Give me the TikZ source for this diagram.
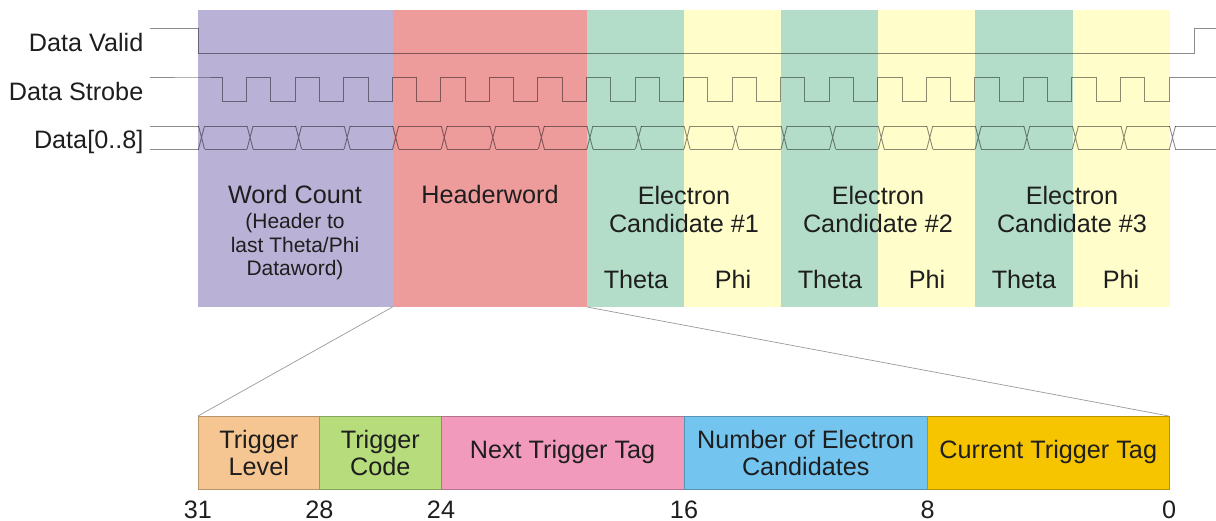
\documentclass[tikz,border=0pt]{standalone}
\usepackage{fontspec}
\setmainfont{Liberation Sans}
\definecolor{cpur}{HTML}{BAB1D6}
\definecolor{cred}{HTML}{EE9B9C}
\definecolor{cgrn}{HTML}{B3DDC8}
\definecolor{cyel}{HTML}{FFFDCA}
\definecolor{forg}{HTML}{F6C692}
\definecolor{fgrn}{HTML}{B6DC7C}
\definecolor{fpnk}{HTML}{F29ABC}
\definecolor{fblu}{HTML}{74C4F0}
\definecolor{fgld}{HTML}{F6C500}
\definecolor{txt}{HTML}{1E1E1E}
\begin{document}
\begin{tikzpicture}[x=1pt,y=-1pt,
  col/.style={draw=none,anchor=north west,minimum height=297pt,inner sep=0pt,outer sep=0pt},
  field/.style={draw=#1!75!black,line width=0.8pt,fill=#1,anchor=north west,minimum height=73pt,inner sep=0pt,outer sep=0pt},
  lbl/.style={font=\fontsize{25.2}{28}\selectfont,text=txt,inner sep=0pt,anchor=base},
  sml/.style={font=\fontsize{21}{24}\selectfont,text=txt,inner sep=0pt,anchor=base},
  sig/.style={font=\fontsize{25.2}{28}\selectfont,text=txt,inner sep=0pt,anchor=base east},
  wave/.style={draw=black,opacity=0.45,line width=0.9pt},
  zoomline/.style={draw=black!40,line width=0.7pt}]
\useasboundingbox (0,0) rectangle (1216,521);
% columns
\node[col,fill=cpur,minimum width=194.5pt] (wc) at (198,10) {};
\node[col,fill=cred,minimum width=194.5pt] (hw) at (392.5,10) {};
\node[col,fill=cgrn,minimum width=97.2pt] (t1) at (587,10) {};
\node[col,fill=cyel,minimum width=97.2pt] (p1) at (684.1,10) {};
\node[col,fill=cgrn,minimum width=97.2pt] (t2) at (781.2,10) {};
\node[col,fill=cyel,minimum width=97.2pt] (p2) at (878.3,10) {};
\node[col,fill=cgrn,minimum width=97.2pt] (t3) at (975.4,10) {};
\node[col,fill=cyel,minimum width=97.2pt] (p3) at (1072.5,10) {};
% signal names
\node[sig] (dv) at (143.5,51.5) {Data Valid};
\node[sig] (ds) at (143.5,100.5) {Data Strobe};
\node[sig] (dd) at (143.5,148.5) {Data[0..8]};
% waveforms
\draw[wave] (150,28) -- (198,28) -- (198,53) -- (1194,53) -- (1194,28) -- (1216,28);
\draw[wave] (150,77) -- (198,77)
  \foreach \k in {0,...,19} { -- ({198+\k*48.55+24.3},77) -- ({198+\k*48.55+24.3},101)
     -- ({198+(\k+1)*48.55},101) -- ({198+(\k+1)*48.55},77) } -- (1216,77);
\draw[wave] (150,126) -- (198.5,126) (150,149) -- (198.5,149)
  (1174.5,126) -- (1216,126) (1174.5,149) -- (1216,149);
\foreach \k in {0,...,20} {
  \draw[wave] ({198.5+\k*48.55},126) -- ({204.5+\k*48.55},149)
              ({198.5+\k*48.55},149) -- ({204.5+\k*48.55},126);
}
\foreach \k in {0,...,19} {
  \draw[wave] ({204.5+\k*48.55},126) -- ({198.5+(\k+1)*48.55},126)
              ({204.5+\k*48.55},149) -- ({198.5+(\k+1)*48.55},149);
}
% column texts
\node[lbl] (wct) at (295,204) {Word Count};
\node[sml] (wc1) at (295,229) {(Header to};
\node[sml] (wc2) at (295,252.5) {last Theta/Phi};
\node[sml] (wc3) at (295,276) {Dataword)};
\node[lbl] (hwt) at (490,204) {Headerword};
\node[lbl] (e1a) at (684,204.3) {Electron};
\node[lbl] (e1b) at (684,232.7) {Candidate \#1};
\node[lbl] (e2a) at (878,204.3) {Electron};
\node[lbl] (e2b) at (878,232.7) {Candidate \#2};
\node[lbl] (e3a) at (1072,204.3) {Electron};
\node[lbl] (e3b) at (1072,232.7) {Candidate \#3};
\node[lbl] (th1) at (636,288.3) {Theta};
\node[lbl] (ph1) at (733,288.3) {Phi};
\node[lbl] (th2) at (830,288.3) {Theta};
\node[lbl] (ph2) at (927,288.3) {Phi};
\node[lbl] (th3) at (1024,288.3) {Theta};
\node[lbl] (ph3) at (1121,288.3) {Phi};
% header word fields
\node[field=forg,minimum width=121.5pt] (tl) at (198,416) {};
\node[field=fgrn,minimum width=121.5pt] (tc) at (319.5,416) {};
\node[field=fpnk,minimum width=243pt] (nt) at (441,416) {};
\node[field=fblu,minimum width=243.5pt] (ne) at (684,416) {};
\node[field=fgld,minimum width=241.5pt] (ct) at (927.5,416) {};
\node[lbl] (tl1) at (tl.center |- 0,448.5) {Trigger};
\node[lbl] (tl2) at (tl.center |- 0,475.5) {Level};
\node[lbl] (tc1) at (tc.center |- 0,448.5) {Trigger};
\node[lbl] (tc2) at (tc.center |- 0,475.5) {Code};
\node[lbl] (ntt) at (nt.center |- 0,458.5) {Next Trigger Tag};
\node[lbl] (ne1) at (ne.center |- 0,448.5) {Number of Electron};
\node[lbl] (ne2) at (ne.center |- 0,475.5) {Candidates};
\node[lbl] (ctt) at (ct.center |- 0,458.5) {Current Trigger Tag};
% bit numbers
\node[lbl] (b31) at (198,518) {31};
\node[lbl] (b28) at (319.5,518) {28};
\node[lbl] (b24) at (441,518) {24};
\node[lbl] (b16) at (684,518) {16};
\node[lbl] (b8) at (927.5,518) {8};
\node[lbl] (b0) at (1169,518) {0};
% zoom lines
\draw[zoomline] (hw.south west) -- (tl.north west);
\draw[zoomline] (hw.south east) -- (ct.north east);
\end{tikzpicture}
\end{document}
